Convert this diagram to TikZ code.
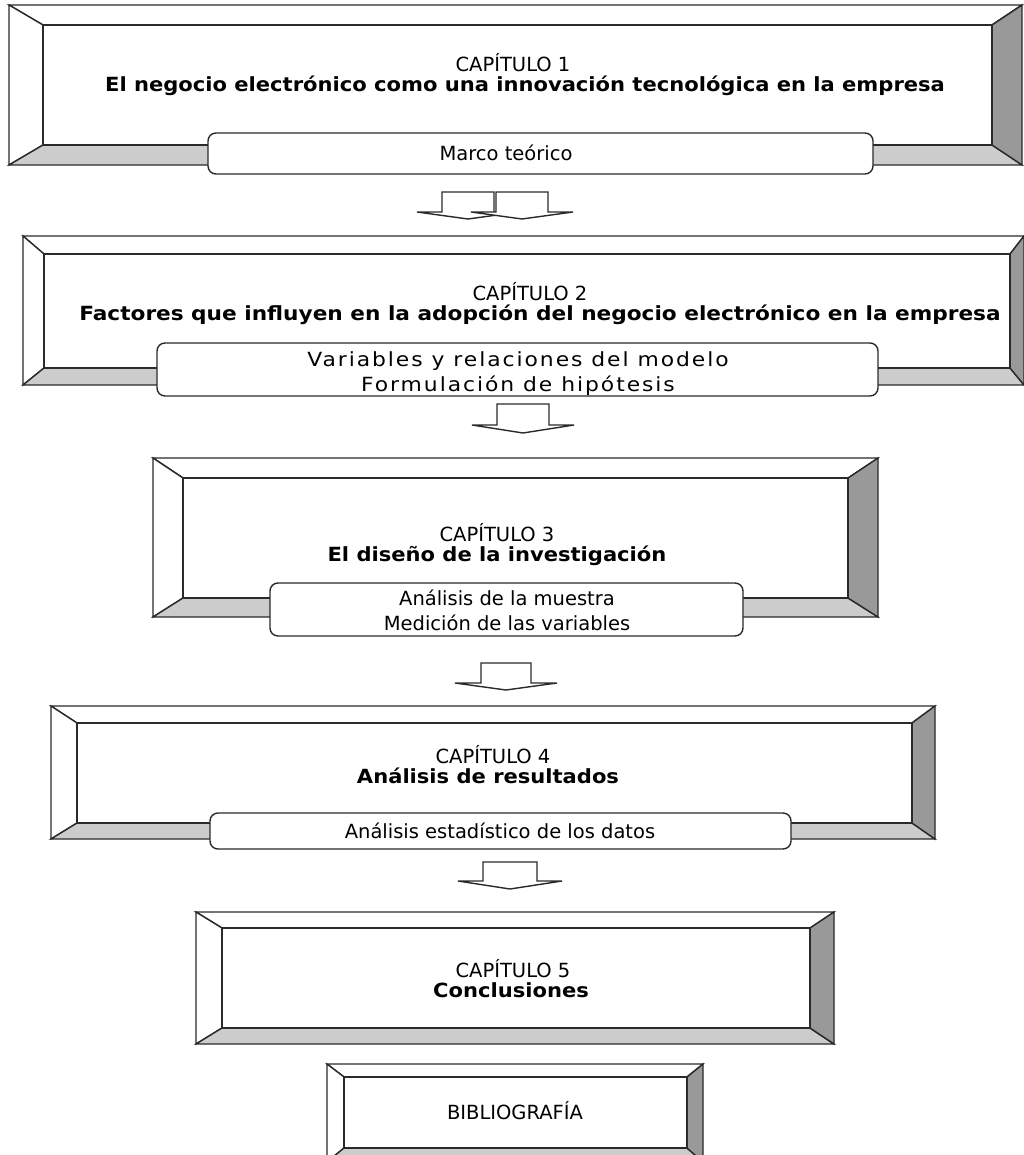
\documentclass[tikz,border=0pt]{standalone}
\usepackage{fontspec}
\setmainfont{DejaVu Sans}
\newfontfamily\headfont{DejaVu Sans}[FakeStretch=1.08]
\newfontfamily\headfontwide{DejaVu Sans}[FakeStretch=1.11]
\newfontfamily\spacedfont{DejaVu Sans}[FakeStretch=1.12, LetterSpace=10]
\definecolor{edge}{HTML}{2A2A2A}
\definecolor{bevlight}{HTML}{CCCCCC}
\definecolor{bevdark}{HTML}{999999}
\tikzset{
  bevel/.style={draw=edge, line width=1.4pt, line join=miter},
  subbox/.style={draw=edge, fill=white, line width=1.4pt, rounded corners=8pt, inner sep=0pt},
  chap/.style={inner sep=0pt, anchor=base, font=\fontsize{19.5}{24}\selectfont},
  head/.style={inner sep=0pt, anchor=base, font=\headfont\bfseries\fontsize{19.5}{24}\selectfont},
  headwide/.style={inner sep=0pt, anchor=base, font=\headfontwide\bfseries\fontsize{19.5}{24}\selectfont},
  note/.style={inner sep=0pt, anchor=base, font=\fontsize{19.5}{24}\selectfont},
  spacednote/.style={inner sep=0pt, anchor=base, font=\spacedfont\fontsize{19.5}{24}\selectfont},
  blockarrow/.style={draw=edge, fill=white, line width=1.4pt, line join=miter},
}
% bevelled frame: name, outer x1 y1 x2 y2, inner x1 y1 x2 y2
\newcommand\bevelbox[9]{%
  \filldraw[bevel, fill=white] (#2,#3) -- (#4,#3) -- (#8,#7) -- (#6,#7) -- cycle;
  \filldraw[bevel, fill=white] (#2,#3) -- (#6,#7) -- (#6,#9) -- (#2,#5) -- cycle;
  \filldraw[bevel, fill=bevlight] (#2,#5) -- (#6,#9) -- (#8,#9) -- (#4,#5) -- cycle;
  \filldraw[bevel, fill=bevdark] (#4,#3) -- (#4,#5) -- (#8,#9) -- (#8,#7) -- cycle;
  \filldraw[bevel, fill=white] (#6,#7) rectangle (#8,#9);
  \coordinate (#1) at ({(#6+#8)/2},{(#7+#9)/2});
}
% rounded label bar: name, x1 y1 x2 y2
\newcommand\labelbar[5]{%
  \node[subbox, minimum width={#4-#2}, minimum height={#5-#3}] (#1) at ({(#2+#4)/2},{(#3+#5)/2}) {};
}
% hollow down arrow: centre x, shaft half width, top, wing half width, wing y, tip y
\newcommand\downblock[6]{%
  \filldraw[blockarrow] ({#1-#2},#3) -- ({#1+#2},#3) -- ({#1+#2},#5) -- ({#1+#4},#5)
    -- (#1,#6) -- ({#1-#4},#5) -- ({#1-#2},#5) -- cycle;
}
\begin{document}
\begin{tikzpicture}[x=1pt, y=-1pt]
\useasboundingbox (0,0) rectangle (1023,1155);

% chapter 1
\bevelbox{b1}{9}{5}{1022}{165}{43}{25}{992}{145}
\labelbar{s1}{208}{133}{873}{174}
\node[chap] (c1) at (513,72) {CAPÍTULO 1};
\node[head] (t1) at (525,92) {El negocio electrónico como una innovación tecnológica en la empresa};
\node[note] (n1) at (506,161) {Marco teórico};

\downblock{468}{26}{192}{51}{212}{219}
\downblock{522}{26}{192}{51}{212}{219}

% chapter 2
\bevelbox{b2}{23}{236}{1024}{385}{44}{254}{1010}{368}
\labelbar{s2}{157}{343}{878}{396}
\node[chap] (c2) at (530,300) {CAPÍTULO 2};
\node[headwide] (t2) at (540,320) {Factores que influyen en la adopción del negocio electrónico en la empresa};
\node[spacednote] (n2a) at (518,366) {Variables y relaciones del modelo};
\node[spacednote] (n2b) at (518,391) {Formulación de hipótesis};

\downblock{523}{26}{404}{51}{425}{433}

% chapter 3
\bevelbox{b3}{153}{458}{878}{617}{183}{478}{848}{598}
\labelbar{s3}{270}{583}{743}{636}
\node[chap] (c3) at (497,541) {CAPÍTULO 3};
\node[head] (t3) at (497,561) {El diseño de la investigación};
\node[note] (n3a) at (507,605) {Análisis de la muestra};
\node[note] (n3b) at (507,630) {Medición de las variables};

\downblock{506}{25}{663}{51}{683}{690}

% chapter 4
\bevelbox{b4}{51}{706}{935}{839}{77}{723}{912}{823}
\labelbar{s4}{210}{813}{791}{849}
\node[chap] (c4) at (493,763) {CAPÍTULO 4};
\node[head] (t4) at (488,783) {Análisis de resultados};
\node[note] (n4) at (500,838) {Análisis estadístico de los datos};

\downblock{510}{27}{862}{52}{881}{889}

% chapter 5
\bevelbox{b5}{196}{912}{834}{1044}{222}{928}{810}{1028}
\node[chap] (c5) at (513,977) {CAPÍTULO 5};
\node[head] (t5) at (511,997) {Conclusiones};

% references
\bevelbox{b6}{327}{1064}{703}{1162}{344}{1077}{687}{1148}
\node[chap] (c6) at (515,1119) {BIBLIOGRAFÍA};
\end{tikzpicture}
\end{document}
